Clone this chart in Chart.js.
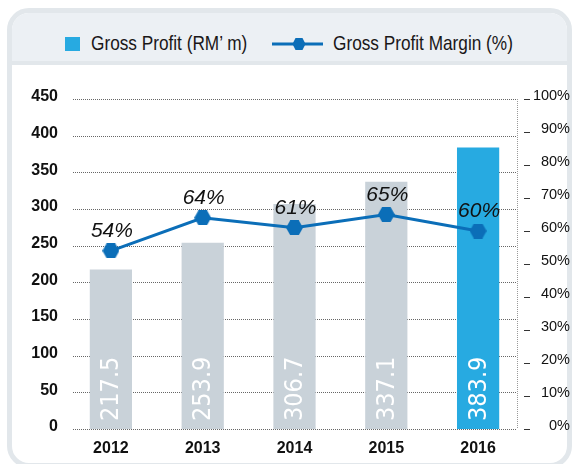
<!DOCTYPE html>
<html>
<head>
<meta charset="utf-8">
<script src="https://cdn.jsdelivr.net/npm/chart.js@4.4.1/dist/chart.umd.min.js"></script>
<style>
  html, body { margin: 0; padding: 0; background: #fff; }
  #wrap { position: relative; width: 574px; height: 464px; overflow: hidden; }
  #card {
    position: absolute; left: 7px; top: 8px; width: 565px; height: 460px;
    box-sizing: border-box; border: 5px solid #e2e7eb; border-radius: 22px;
    background: #fff; overflow: hidden;
  }
  #header {
    position: absolute; left: 0; top: 0; right: 0; height: 48px;
    background: #ecf0f4; border-bottom: 4px solid #e2e7eb;
  }
  .lg {
    position: absolute; top: 31px; height: 25px; line-height: 25px;
    font: 21px "Liberation Sans", Arial, sans-serif;
    color: #1a1718; white-space: nowrap;
    transform: scaleX(0.82); transform-origin: 0 50%;
  }
  #sw { position: absolute; left: 65px; top: 37px; width: 15px; height: 14px; background: #27aae1; }
  #mk { position: absolute; left: 272px; top: 37px; }
  canvas { position: absolute; left: 0; top: 0; }
</style>
</head>
<body>
<div id="wrap">
  <div id="card"><div id="header"></div></div>
  <div id="sw"></div>
  <div class="lg" style="left:91px">Gross Profit (RM’ m)</div>
  <svg id="mk" width="52" height="14" viewBox="0 0 52 14">
    <line x1="0" y1="7" x2="51" y2="7" stroke="#0b6eb8" stroke-width="3"/>
    <polygon points="20.5,7 23.5,1 30.5,1 33.5,7 30.5,13 23.5,13" fill="#0b6eb8"/>
  </svg>
  <div class="lg" style="left:333px">Gross Profit Margin (%)</div>
  <canvas id="chart" width="574" height="464"></canvas>
</div>
<script>
// ---------- data ----------
const years = ["2012", "2013", "2014", "2015", "2016"];
const grossProfit = [217.5, 253.9, 306.7, 337.1, 383.9];   // RM'm
const profitMargin = [54, 64, 61, 65, 60];                  // %

const GREY = "#c9d2d9";
const BLUE = "#27aae1";
const LINE = "#0b6eb8";
const SANS = "'Liberation Sans', Arial, sans-serif";
const COND = "'DejaVu Sans Condensed', 'Liberation Sans', sans-serif";

// last year highlighted in blue
const barColors = years.map((y, i) => i === years.length - 1 ? BLUE : GREY);

// hexagon marker for the margin line
function hexagon(w, h, color) {
  const c = document.createElement("canvas");
  c.width = w; c.height = h;
  const g = c.getContext("2d");
  g.fillStyle = color;
  g.beginPath();
  g.moveTo(0, h / 2);
  g.lineTo(w * 0.25, 0);
  g.lineTo(w * 0.75, 0);
  g.lineTo(w, h / 2);
  g.lineTo(w * 0.75, h);
  g.lineTo(w * 0.25, h);
  g.closePath();
  g.fill();
  return c;
}
const hex = hexagon(17, 15, LINE);

// dotted grid lines, shorter than the chart area
const dottedGrid = {
  id: "dottedGrid",
  beforeDatasetsDraw(chart) {
    const { ctx, scales } = chart;
    const y = scales.y;
    const x0 = 73, x1 = 517;
    ctx.save();
    ctx.strokeStyle = "#666";
    ctx.lineWidth = 1;
    ctx.setLineDash([1, 1]);
    y.ticks.forEach(t => {
      const py = Math.round(y.getPixelForValue(t.value)) + 0.5;
      ctx.beginPath();
      ctx.moveTo(x0, py);
      ctx.lineTo(x1, py);
      ctx.stroke();
    });
    ctx.strokeStyle = "#999";
    ctx.beginPath();
    ctx.moveTo(x1 + 0.5, y.getPixelForValue(450));
    ctx.lineTo(x1 + 0.5, y.getPixelForValue(0));
    ctx.stroke();
    ctx.restore();
  }
};

// values written inside bars and above points
const valueLabels = {
  id: "valueLabels",
  afterDatasetsDraw(chart) {
    const { ctx } = chart;
    const bars = chart.getDatasetMeta(1).data;
    const pts = chart.getDatasetMeta(0).data;
    const base = chart.scales.y.getPixelForValue(0);
    ctx.save();
    ctx.fillStyle = "#ffffff";
    ctx.font = "25px " + COND;
    ctx.textAlign = "left";
    ctx.textBaseline = "middle";
    bars.forEach((b, i) => {
      ctx.save();
      ctx.translate(b.x, base - 8);
      ctx.rotate(-Math.PI / 2);
      ctx.fillText(grossProfit[i].toFixed(1), 0, 1);
      ctx.restore();
    });
    ctx.fillStyle = "#111111";
    ctx.font = "italic 21px " + SANS;
    ctx.textAlign = "center";
    ctx.textBaseline = "alphabetic";
    pts.forEach((p, i) => {
      ctx.fillText(profitMargin[i] + "%", p.x + 1, p.y - 14);
    });
    ctx.restore();
  }
};

const ctx = document.getElementById("chart").getContext("2d");

const chart = new Chart(ctx, {
  data: {
    labels: years,
    datasets: [
      {
        type: "line",
        label: "Gross Profit Margin (%)",
        data: profitMargin,
        yAxisID: "y1",
        borderColor: LINE,
        borderWidth: 3,
        pointStyle: hex,
        pointRadius: 8,
        tension: 0,
        order: 0
      },
      {
        type: "bar",
        label: "Gross Profit (RM' m)",
        data: grossProfit,
        yAxisID: "y",
        backgroundColor: barColors,
        barPercentage: 0.46,
        categoryPercentage: 1,
        order: 1
      }
    ]
  },
  options: {
    responsive: false,
    devicePixelRatio: 1,
    animation: false,
    layout: { padding: { left: 0, right: 4, top: 99, bottom: 0 } },
    plugins: {
      legend: { display: false },
      tooltip: { enabled: false }
    },
    scales: {
      x: {
        grid: { display: false, drawTicks: false },
        border: { display: false },
        ticks: {
          color: "#111",
          padding: 10,
          font: { family: SANS, size: 16, weight: "bold" }
        },
        afterFit: s => { s.height = 35; }
      },
      y: {
        position: "left",
        min: 0,
        max: 450,
        grid: { display: false, drawTicks: false },
        border: { display: false },
        ticks: {
          stepSize: 50,
          color: "#111",
          padding: 7,
          labelOffset: -2,
          font: { family: SANS, size: 16, weight: "bold" }
        },
        afterFit: s => { s.width = 65; }
      },
      y1: {
        position: "right",
        min: 0,
        max: 100,
        grid: {
          drawOnChartArea: false,
          drawTicks: true,
          tickLength: 6,
          tickColor: "#333",
          tickWidth: 1
        },
        border: { display: false },
        ticks: {
          stepSize: 10,
          color: "#111",
          crossAlign: "far",
          labelOffset: -3,
          font: { family: SANS, size: 14.5 },
          callback: v => v + "%"
        },
        afterFit: s => { s.width = 46; }
      }
    }
  },
  plugins: [dottedGrid, valueLabels]
});
</script>
</body>
</html>
